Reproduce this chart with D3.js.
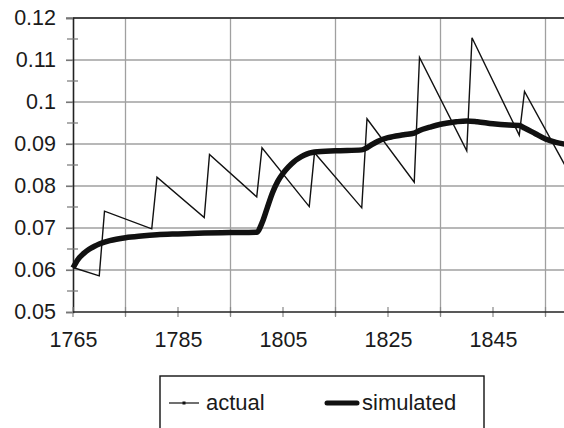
<!DOCTYPE html>
<html><head><meta charset="utf-8">
<script src="https://cdn.jsdelivr.net/npm/d3@7"></script>
<style>html,body{margin:0;padding:0;background:#fff;}svg{display:block;}</style>
</head><body>
<svg id="chart" width="564" height="428"></svg>
<script>
// ---- data ----
const actualYears  = [1765, 1770, 1771, 1780, 1781, 1790, 1791, 1800, 1801, 1810, 1811, 1820, 1821, 1830, 1831, 1840, 1841, 1850, 1851, 1860];
const actualValues = [0.0606, 0.0586, 0.0740, 0.0698, 0.0821, 0.0725, 0.0875, 0.0774, 0.0891, 0.0751, 0.0879, 0.0748, 0.0960, 0.0809, 0.1106, 0.0884, 0.1153, 0.0921, 0.1025, 0.0820];
const simYears  = [1765, 1766, 1767, 1768, 1769, 1770, 1772, 1775, 1778, 1781, 1785, 1790, 1795, 1800, 1801, 1802, 1803, 1804, 1805, 1806, 1807, 1808, 1809, 1810, 1811, 1815, 1820, 1821, 1822, 1823, 1825, 1828, 1830, 1831, 1833, 1835, 1838, 1840, 1842, 1845, 1848, 1850, 1851, 1853, 1855, 1857, 1859, 1860];
const simValues = [0.0605, 0.0626, 0.0639, 0.0649, 0.0656, 0.0662, 0.0670, 0.0677, 0.0681, 0.0684, 0.0686, 0.0688, 0.0689, 0.0690, 0.0712, 0.0748, 0.0784, 0.0811, 0.0830, 0.0845, 0.0857, 0.0866, 0.0873, 0.0878, 0.0881, 0.0884, 0.0886, 0.0891, 0.0899, 0.0906, 0.0915, 0.0922, 0.0926, 0.0932, 0.0940, 0.0947, 0.0953, 0.0955, 0.0953, 0.0948, 0.0945, 0.0944, 0.0938, 0.0925, 0.0912, 0.0904, 0.0899, 0.0897];
const yTicks = [0.05, 0.06, 0.07, 0.08, 0.09, 0.1, 0.11, 0.12];
const yTickLabels = ["0.05", "0.06", "0.07", "0.08", "0.09", "0.1", "0.11", "0.12"];
const yMinorTicks = [0.055, 0.065, 0.075, 0.085, 0.095, 0.105, 0.115];
const xLabelYears = [1765, 1785, 1805, 1825, 1845];
const xGridYears = [1775, 1795, 1815, 1835, 1855];
const xTickYears = [1765, 1775, 1785, 1795, 1805, 1815, 1825, 1835, 1845, 1855];
const legendLabels = ["actual", "simulated"];

// ---- layout ----
const svg = d3.select("#chart");
const x = d3.scaleLinear().domain([1765, 1865]).range([73, 598]);
const y = d3.scaleLinear().domain([0.05, 0.12]).range([312, 18]);
const font = "'Liberation Sans', Arial, sans-serif";
const fs = 21.5;
const right = 564;

// gridlines
svg.append("g").selectAll("line").data(yTicks.filter(d => d > 0.05)).join("line")
  .attr("x1", 66).attr("x2", right).attr("y1", d => y(d)).attr("y2", d => y(d))
  .attr("stroke", "#a0a0a0").attr("stroke-width", 1.3);
svg.append("g").selectAll("line").data(xGridYears).join("line")
  .attr("x1", d => x(d)).attr("x2", d => x(d)).attr("y1", y(0.12)).attr("y2", y(0.05) + 4)
  .attr("stroke", "#a0a0a0").attr("stroke-width", 1.3);

// top border
svg.append("line").attr("x1", x(1765)).attr("x2", right).attr("y1", y(0.12)).attr("y2", y(0.12))
  .attr("stroke", "#222").attr("stroke-width", 1.5);

// y axis
const yAxis = svg.append("g").attr("transform", `translate(${x(1765)},0)`)
  .call(d3.axisLeft(y).tickValues(yTicks).tickFormat((d, i) => yTickLabels[i]).tickSize(7).tickPadding(10));
yAxis.select(".domain").attr("stroke", "#222").attr("stroke-width", 1.6);
yAxis.selectAll(".tick line").attr("stroke", "#777").attr("stroke-width", 1.2);
yAxis.selectAll("text").attr("font-family", font).attr("font-size", fs).attr("fill", "#1a1a1a");
svg.append("g").selectAll("line").data(yMinorTicks).join("line")
  .attr("x1", x(1765) - 6).attr("x2", x(1765) + 5).attr("y1", d => y(d)).attr("y2", d => y(d))
  .attr("stroke", "#777").attr("stroke-width", 1.2);

// x axis
const xAxis = svg.append("g").attr("transform", `translate(0,${y(0.05)})`)
  .call(d3.axisBottom(x).tickValues(xLabelYears).tickFormat(d3.format("d")).tickSize(0).tickPadding(20));
xAxis.select(".domain").remove();
xAxis.selectAll("text").attr("font-family", font).attr("font-size", fs).attr("fill", "#1a1a1a");
svg.append("g").selectAll("line").data(xTickYears).join("line")
  .attr("x1", d => x(d)).attr("x2", d => x(d)).attr("y1", y(0.05) - 5).attr("y2", y(0.05) + 5)
  .attr("stroke", "#888").attr("stroke-width", 1.2);
svg.append("line").attr("x1", x(1765)).attr("x2", right).attr("y1", y(0.05)).attr("y2", y(0.05))
  .attr("stroke", "#222").attr("stroke-width", 1.6);

// series
const actual = actualYears.map((d, i) => [d, actualValues[i]]);
const sim = simYears.map((d, i) => [d, simValues[i]]);
svg.append("path").datum(sim)
  .attr("d", d3.line().x(d => x(d[0])).y(d => y(d[1])).curve(d3.curveMonotoneX))
  .attr("fill", "none").attr("stroke", "#111").attr("stroke-width", 5.5).attr("stroke-linejoin", "round");
svg.append("path").datum(actual)
  .attr("d", d3.line().x(d => x(d[0])).y(d => y(d[1])))
  .attr("fill", "none").attr("stroke", "#111").attr("stroke-width", 1.4).attr("stroke-linejoin", "miter");

// legend
const lg = svg.append("g");
lg.append("rect").attr("x", 160).attr("y", 376).attr("width", 324).attr("height", 70)
  .attr("fill", "#fff").attr("stroke", "#111").attr("stroke-width", 1.4);
lg.append("line").attr("x1", 169).attr("x2", 199).attr("y1", 403).attr("y2", 403)
  .attr("stroke", "#111").attr("stroke-width", 1.2);
lg.append("rect").attr("x", 182.5).attr("y", 401.5).attr("width", 3).attr("height", 3).attr("fill", "#111");
lg.append("line").attr("x1", 327).attr("x2", 357).attr("y1", 403).attr("y2", 403)
  .attr("stroke", "#111").attr("stroke-width", 5).attr("stroke-linecap", "round");
lg.selectAll("text").data(legendLabels).join("text")
  .attr("x", (d, i) => i === 0 ? 206 : 362).attr("y", 410)
  .attr("font-family", font).attr("font-size", 22).attr("fill", "#1a1a1a").text(d => d);
</script>
</body></html>
